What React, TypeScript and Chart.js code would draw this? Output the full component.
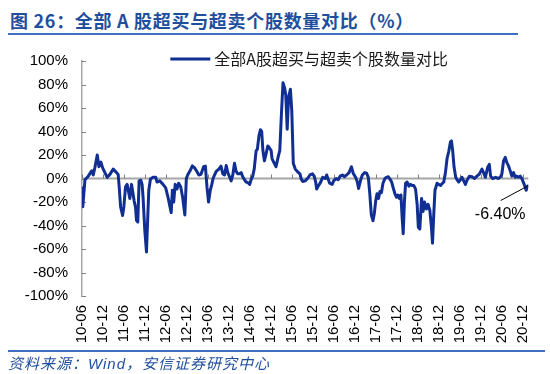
import React, { useEffect, useRef } from 'react';
import { Chart, registerables } from 'chart.js';

Chart.register(...registerables);

// x-axis tick labels (every six months, starting 2010-06)
const tickLabels = [
  '10-06', '10-12', '11-06', '11-12', '12-06', '12-12', '13-06', '13-12',
  '14-06', '14-12', '15-06', '15-12', '16-06', '16-12', '17-06', '17-12',
  '18-06', '18-12', '19-06', '19-12', '20-06', '20-12',
];

// observation dates, in months since 2010-06
const monthIndex = [
  0, 0.23, 0.85, 1.79, 2.76, 3.22, 3.7, 4.36, 4.84, 5.41,
  5.9, 6.55, 7.21, 7.98, 8.92, 9.89, 10.34, 10.63, 11.03, 11.6,
  11.97, 12.45, 12.91, 13.68, 14.16, 14.44, 14.9, 15.3, 15.58, 15.95,
  16.32, 16.81, 17.18, 17.46, 17.95, 18.43, 18.8, 19.09, 19.57, 20.31,
  21.08, 21.45, 22.22, 23.16, 23.93, 24.59, 25.07, 25.5, 25.84, 26.21,
  26.64, 27.15, 27.64, 28.21, 28.77, 29.4, 29.83, 30.28, 30.97, 31.54,
  32.19, 32.85, 33.42, 33.99, 34.76, 35.27, 35.75, 36.18, 36.67, 37.12,
  37.46, 37.89, 38.38, 39.12, 39.74, 40.26, 40.74, 41.23, 41.68, 42.17,
  42.65, 43.11, 43.59, 44.07, 44.53, 45.01, 45.5, 45.95, 46.44, 46.92,
  47.44, 47.95, 48.35, 48.8, 49.23, 49.77, 50.14, 50.57, 51.0, 51.37,
  51.71, 52.14, 52.62, 53.13, 53.56, 54.05, 54.33, 54.79, 55.47, 56.13,
  56.55, 56.98, 57.46, 57.92, 58.26, 58.66, 59.06, 59.57, 59.97, 60.4,
  60.97, 61.68, 62.31, 62.68, 63.11, 63.82, 64.47, 65.16, 65.9, 66.38,
  66.81, 67.09, 67.61, 68.09, 68.8, 69.52, 69.94, 70.8, 71.51, 71.94,
  72.65, 73.22, 73.79, 74.44, 75.07, 75.64, 76.35, 77.01, 77.58, 78.21,
  78.72, 79.06, 79.69, 80.14, 80.83, 81.34, 81.85, 82.25, 82.71, 83.19,
  83.56, 83.96, 84.33, 84.76, 85.19, 85.61, 86.04, 86.52, 86.98, 87.55,
  88.03, 88.52, 88.97, 89.46, 89.94, 90.31, 90.74, 91.17, 91.54, 91.82,
  92.17, 92.51, 92.96, 93.45, 93.93, 94.39, 94.87, 95.36, 95.81, 96.15,
  96.58, 97.07, 97.52, 97.92, 98.49, 98.95, 99.43, 99.91, 100.2, 100.57,
  100.91, 101.51, 102.0, 102.48, 102.93, 103.42, 103.9, 104.36, 104.84, 105.33,
  105.61, 105.98, 106.35, 106.84, 107.21, 107.69, 108.18, 108.63, 109.12, 109.6,
  110.06, 110.74, 111.48, 112.25, 112.91, 113.59, 114.33, 114.81, 115.3, 115.95,
  116.44, 116.81, 117.38, 118.23, 119.09, 119.66, 120.03, 120.51, 121.0, 121.45,
  121.94, 122.42, 122.88, 123.36, 123.85, 124.3, 124.79, 125.27, 125.73, 126.41,
  126.98, 127.41,
];

// overbought vs oversold stock count comparison, %
const ratio = [
  -8, -24, -1, 2, 6.5, 3, 9.6, 20, 10, 14,
  9, 5, 1, 3.5, 8, 5, 3.5, -7, -24, -31.5,
  -24, -7, -5, -17, -5, -10, -19, -24.5, -35.6, -37,
  -2, -1.5, -5, -16, -44, -62.5, -33, -10, -0.5, 1,
  1, -3, -2, -5, -8, -16, -23, -29, -10, -20,
  -5, -9, -4, -7, -16, -31, 0, 3.5, 7, 10.7,
  9, 6, 3, 3.5, 10, 10.5, -8, -20, -10, -5,
  0, 3, 6, 8, 10.5, 4, 3, 11, 5, 1.5,
  -2, 3, 13, 6, 4, 4, 5, 1.5, -1, -3,
  -3.5, -5, -1, 2, 8, 23.5, 25, 36, 41.5, 40,
  24, 15, 21, 27.7, 26, 24, 17, 14, 10, 19,
  24, 53, 81.5, 77, 71, 42, 69, 76, 58, 13,
  8, 5.5, 4, -0.5, -2.5, -2, 0, 3, 4, 2,
  -3, -9, -6, -4, 1, 0, 3, -4, -5, -2,
  0, -1, 2, 3, 1.5, 3, 5, 10, 4, 1,
  -3, -8.5, -1, 3, 5, 4.5, 1, -12, -31, -36,
  -30, -19, -13, -17, -11, -12, -4, -0.5, 1, 1.5,
  -0.5, -3, -8, -13, -16, -14, -17, -14, -34, -47,
  -20, -4, -3, -6.5, -5, -6, -6, -9, -22, -41.5,
  -43, -17, -28, -20, -26, -22, -27, -42, -55, -30,
  -10, -4, -5, -6, -4.5, -3, 5, 17, 23, 31,
  32, 23.5, 10, 1, -1, -3, -1, 1, -2, -5,
  -1.5, 2, 1.5, 0, 2, 3.7, 8, 5, 1, 9.3,
  12, 2, 0, 1, 0, 1.5, 3.7, 15, 18, 13.5,
  10.7, 6.5, 2, 5, 1, 2, 1, 2, 0, -5,
  -10, -6.4,
];

const seriesName = '全部A股超买与超卖个股数量对比';
const lastValueLabel = '-6.40%';
const titleText = '图 26：全部 A 股超买与超卖个股数量对比（%）';
const sourceText = '资料来源：Wind，安信证券研究中心';

const LINE_COLOR = '#112f93';
const AXIS_GRAY = '#a6a6a6';
const BLUE = '#1f4e9d';

const axisDecor = {
  id: 'axisDecor',
  beforeDatasetsDraw(chart: any) {
    const { ctx, chartArea, scales } = chart;
    const x = scales.x;
    const y = scales.y;
    const y0 = y.getPixelForValue(0);
    ctx.save();
    ctx.strokeStyle = AXIS_GRAY;
    ctx.lineWidth = 2;
    ctx.beginPath();
    ctx.moveTo(chartArea.left, y0);
    ctx.lineTo(chartArea.right, y0);
    ctx.stroke();
    ctx.lineWidth = 1;
    ctx.strokeStyle = '#808080';
    x.ticks.forEach((_t: any, i: number) => {
      const px = Math.round(x.getPixelForTick(i)) + 0.5;
      ctx.beginPath();
      ctx.moveTo(px, y0);
      ctx.lineTo(px, y0 - 4);
      ctx.stroke();
    });
    y.ticks.forEach((_t: any, i: number) => {
      const py = Math.round(y.getPixelForTick(i)) + 0.5;
      ctx.beginPath();
      ctx.moveTo(chartArea.left, py);
      ctx.lineTo(chartArea.left + 4, py);
      ctx.stroke();
    });
    ctx.restore();
  },
  afterDatasetsDraw(chart: any) {
    const { ctx, chartArea } = chart;
    // legend
    const ds = chart.data.datasets[0];
    ctx.save();
    ctx.font = '16px "Noto Sans CJK SC", "Liberation Sans"';
    const tw = ctx.measureText(ds.label).width;
    const sample = 40;
    const gap = 4;
    const total = sample + gap + tw;
    const cx = (chartArea.left + chartArea.right) / 2 + 4;
    const start = cx - total / 2;
    const ly = chartArea.top - 2;
    ctx.strokeStyle = ds.borderColor;
    ctx.lineWidth = 3;
    ctx.beginPath();
    ctx.moveTo(start, ly);
    ctx.lineTo(start + sample, ly);
    ctx.stroke();
    ctx.fillStyle = '#1a1a1a';
    ctx.textBaseline = 'middle';
    ctx.textAlign = 'left';
    ctx.fillText(ds.label, start + sample + gap, ly);

    // last value annotation
    const meta = chart.getDatasetMeta(0);
    const last = meta.data[meta.data.length - 1];
    if (last) {
      const px = last.x;
      const py = last.y;
      ctx.strokeStyle = '#000';
      ctx.lineWidth = 1;
      ctx.beginPath();
      ctx.moveTo(px, py);
      ctx.lineTo(px - 27, py + 14.5);
      ctx.stroke();
      ctx.font = '16px "Liberation Sans", Arial';
      ctx.fillStyle = '#000';
      ctx.textAlign = 'center';
      ctx.textBaseline = 'middle';
      ctx.fillText(lastValueLabel, px - 27.5, py + 29);
    }
    ctx.restore();
  },
};

export default function App() {
  const canvasRef = useRef<HTMLCanvasElement | null>(null);

  useEffect(() => {
    const canvas = canvasRef.current;
    if (!canvas) return;
    const chart = new Chart(canvas, {
      type: 'line',
      data: {
        datasets: [
          {
            label: seriesName,
            data: monthIndex.map((m, i) => ({ x: m, y: ratio[i] })),
            borderColor: LINE_COLOR,
            backgroundColor: LINE_COLOR,
            borderWidth: 3,
            pointRadius: 0,
            tension: 0,
            borderJoinStyle: 'round',
            borderCapStyle: 'round',
          },
        ],
      },
      options: {
        responsive: false,
        animation: false,
        events: [],
        layout: { padding: { left: 0, top: 61, right: 20, bottom: 0 } },
        plugins: {
          legend: { display: false },
          tooltip: { enabled: false },
          title: { display: false },
        },
        scales: {
          x: {
            type: 'linear',
            min: 0,
            max: 127.6,
            afterBuildTicks: (scale: any) => {
              scale.ticks = tickLabels.map((_l, i) => ({ value: i * 6 }));
            },
            afterFit: (scale: any) => {
              scale.height = 78;
            },
            grid: { display: true, drawOnChartArea: false, drawTicks: false },
            border: { display: false },
            ticks: {
              autoSkip: false,
              minRotation: 90,
              maxRotation: 90,
              padding: 9,
              color: '#000',
              font: { family: '"Liberation Sans", Arial', size: 15 },
              callback: (v: any) => {
                const idx = Math.round(Number(v) / 6);
                return tickLabels[idx] ?? '';
              },
            },
          },
          y: {
            min: -100,
            max: 100,
            afterFit: (scale: any) => {
              scale.width = 82;
            },
            grid: { display: true, drawOnChartArea: false, drawTicks: false },
            border: { display: true, color: AXIS_GRAY, width: 1.5 },
            ticks: {
              stepSize: 20,
              padding: 14,
              color: '#000',
              font: { family: '"Liberation Sans", Arial', size: 15 },
              callback: (v: any) => `${v}%`,
            },
          },
        },
      },
      plugins: [axisDecor],
    } as any);
    return () => chart.destroy();
  }, []);

  return (
    <div style={{ position: 'absolute', left: 0, top: 0, width: 550, height: 374, background: '#fff', overflow: 'hidden' }}>
      <div
        style={{
          position: 'absolute',
          left: 10,
          top: 10,
          fontFamily: '"Noto Sans CJK SC", "Liberation Sans", sans-serif',
          fontWeight: 700,
          fontSize: 18,
          lineHeight: '20px',
          letterSpacing: '0.7px',
          color: BLUE,
          whiteSpace: 'nowrap',
        }}
      >
        {titleText}
      </div>
      <div style={{ position: 'absolute', left: 8, top: 33, width: 510, height: 2, background: '#3f6fc0' }} />
      <canvas
        ref={canvasRef}
        width={550}
        height={374}
        style={{ position: 'absolute', left: 0, top: 0, width: 550, height: 374 }}
      />
      <div style={{ position: 'absolute', left: 8, top: 350, width: 537, height: 1.5, background: '#3f6fc0' }} />
      <div
        style={{
          position: 'absolute',
          left: 8,
          top: 355,
          fontFamily: '"Liberation Sans", "Noto Sans CJK SC", sans-serif',
          fontStyle: 'italic',
          fontSize: 15,
          lineHeight: '18px',
          letterSpacing: '1px',
          color: BLUE,
          whiteSpace: 'nowrap',
        }}
      >
        {sourceText}
      </div>
    </div>
  );
}
